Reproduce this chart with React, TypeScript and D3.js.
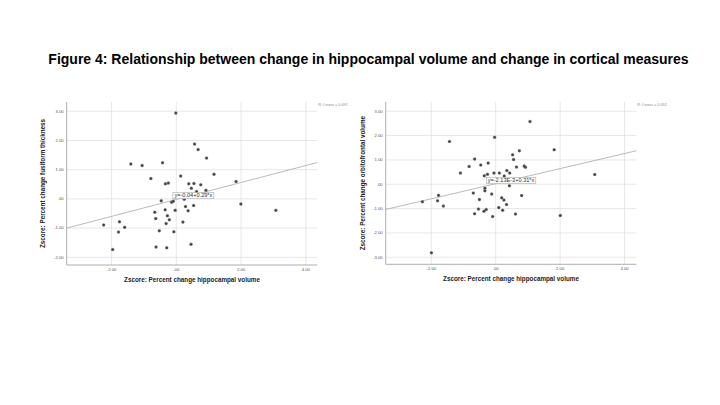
import React, { useEffect, useRef } from 'react';
import * as d3 from 'd3';

// Figure 4 – two SPSS style scatter plots with linear fit

const title = 'Figure 4: Relationship between change in hippocampal volume and change in cortical measures';

const xTicks = [-2, 0, 2, 4];
const leftYTicks = [-2, -1, 0, 1, 2, 3];
const rightYTicks = [-3, -2, -1, 0, 1, 2, 3];

const xLabel = 'Zscore:  Percent change hippocampal volume';

// left panel: fusiform thickness
const fusiformX = [
  0.0, -1.39, -1.04, -0.41, -0.77, -0.32, -0.23, 0.15, 0.58, 0.69, 0.95, 1.18,
  1.86, 0.4, 0.56, 0.77, 0.48, 0.64, 0.93, 2.01, 3.09, -0.45, -0.13, -0.08,
  0.26, 0.55, 0.3, 0.38, -0.02, -0.33, -0.65, -0.26, -0.62, -0.2, -0.3, 0.22,
  -2.23, -1.74, -1.58, -1.77, -0.51, -0.06, -1.95, -0.61, -0.28, 0.47,
];
const fusiformY = [
  2.92, 1.18, 1.13, 1.22, 0.68, 0.5, 0.53, 0.77, 1.86, 1.67, 1.38, 0.83,
  0.58, 0.5, 0.51, 0.47, 0.35, 0.24, 0.28, -0.19, -0.41, -0.08, -0.13, -0.1,
  -0.03, -0.24, -0.28, -0.42, -0.41, -0.39, -0.47, -0.59, -0.69, -0.73, -0.86, -0.81,
  -0.91, -0.8, -0.99, -1.15, -1.11, -1.14, -1.75, -1.66, -1.69, -1.57,
];

// right panel: orbitofrontal volume
const orbitoX = [
  1.08, -1.42, -0.02, 1.83, 0.75, 0.54, 0.57, -0.64, -0.81, -0.45, -0.22, 0.66,
  0.9, 0.94, -1.08, -0.34, -0.24, -0.04, 0.13, 0.36, 0.45, 0.28, 0.44, 3.09,
  -0.32, -0.32, -0.68, -0.11, 0.82, -2.26, -1.76, -1.79, -1.61, -0.49, 0.2, 0.27,
  0.35, -0.64, -0.52, -0.35, -0.28, -0.08, 0.11, 0.23, 0.63, 2.02, -1.98,
];
const orbitoY = [
  2.56, 1.74, 1.91, 1.4, 1.36, 1.19, 1.0, 1.02, 0.71, 0.77, 0.85, 0.69,
  0.73, 0.68, 0.44, 0.33, 0.39, 0.44, 0.44, 0.54, 0.44, 0.32, -0.08, 0.38,
  -0.18, -0.29, -0.38, -0.42, -0.48, -0.74, -0.47, -0.7, -0.91, -0.65, -0.58, -0.67,
  -0.85, -1.23, -1.04, -1.13, -1.06, -1.35, -0.98, -1.09, -1.24, -1.3, -2.84,
];

const panels = [
  {
    xs: fusiformX,
    ys: fusiformY,
    yTicks: leftYTicks,
    yLabel: 'Zscore:  Percent change fusiform thickness',
    xDomain: [-3.37, 4.37],
    yDomain: [-2.28, 3.3],
    intercept: -0.04,
    slope: 0.29,
    fitLabel: 'y=-0.04+0.29*x',
    labelAt: [-0.09, 0.2],
    r2: 'R\u00b2 Linear = 0.091',
    box: { x0: 66.7, x1: 317.3, y0: 102, y1: 265, yLabelX: 45 },
  },
  {
    xs: orbitoX,
    ys: orbitoY,
    yTicks: rightYTicks,
    yLabel: 'Zscore:  Percent change orbitofrontal volume',
    xDomain: [-3.4, 4.38],
    yDomain: [-3.31, 3.36],
    intercept: -2.13e-3,
    slope: 0.31,
    fitLabel: 'y=-2.13E-3+0.31*x',
    labelAt: [-0.28, 0.26],
    r2: 'R\u00b2 Linear = 0.092',
    box: { x0: 385.7, x1: 636.3, y0: 102, y1: 264.3, yLabelX: 365 },
  },
];

const fmt = (d: number) => (d === 0 ? '.00' : d.toFixed(2));

const App = () => {
  const svgRef = useRef<SVGSVGElement>(null);

  useEffect(() => {
    if (!svgRef.current) return;
    const svg = d3.select(svgRef.current);
    svg.selectAll('*').remove();

    svg.append('rect').attr('width', 720).attr('height', 405).attr('fill', '#fff');

    svg.append('text')
      .attr('x', 368.5)
      .attr('y', 64)
      .attr('text-anchor', 'middle')
      .attr('font-family', 'Liberation Sans, Arial, sans-serif')
      .attr('font-weight', 'bold')
      .attr('font-size', 14)
      .attr('fill', '#000')
      .text(title);

    panels.forEach((p) => {
      const { x0, x1, y0, y1 } = p.box;
      const x = d3.scaleLinear().domain(p.xDomain).range([x0, x1]);
      const y = d3.scaleLinear().domain(p.yDomain).range([y1, y0]);
      const g = svg.append('g').attr('font-family', 'Liberation Sans, Arial, sans-serif');

      // grid + tick labels
      const yAxis = g.append('g')
        .attr('transform', `translate(${x0},0)`)
        .call(d3.axisLeft(y).tickValues(p.yTicks).tickFormat(fmt as any).tickSize(-(x1 - x0)).tickPadding(3));
      yAxis.select('.domain').remove();
      yAxis.selectAll('line').attr('stroke', '#dcdcdc').attr('stroke-width', 0.7);
      yAxis.selectAll('text').attr('font-size', 4.2).attr('fill', '#555').attr('font-family', null);

      const xAxis = g.append('g')
        .attr('transform', `translate(0,${y1})`)
        .call(d3.axisBottom(x).tickValues(xTicks).tickFormat(fmt as any).tickSize(-(y1 - y0)).tickPadding(3));
      xAxis.select('.domain').remove();
      xAxis.selectAll('line').attr('stroke', '#dcdcdc').attr('stroke-width', 0.7);
      xAxis.selectAll('text').attr('font-size', 4.2).attr('fill', '#555').attr('font-family', null);

      // axis lines
      g.append('line').attr('x1', x0).attr('x2', x0).attr('y1', y0).attr('y2', y1)
        .attr('stroke', '#9a9a9a').attr('stroke-width', 0.8);
      g.append('line').attr('x1', x0).attr('x2', x1).attr('y1', y1).attr('y2', y1)
        .attr('stroke', '#9a9a9a').attr('stroke-width', 0.8);

      // fit line
      const [dx0, dx1] = p.xDomain;
      g.append('line')
        .attr('x1', x(dx0)).attr('y1', y(p.intercept + p.slope * dx0))
        .attr('x2', x(dx1)).attr('y2', y(p.intercept + p.slope * dx1))
        .attr('stroke', '#a8a8a8').attr('stroke-width', 0.8);

      // points
      g.append('g')
        .selectAll('circle')
        .data(p.xs.map((v, i) => [v, p.ys[i]]))
        .join('circle')
        .attr('cx', (d) => x(d[0]))
        .attr('cy', (d) => y(d[1]))
        .attr('r', 1.5)
        .attr('fill', '#444')
        .attr('stroke', '#888')
        .attr('stroke-width', 0.3);

      // fit equation label
      const lx = x(p.labelAt[0]);
      const ly = y(p.labelAt[1]);
      const lbl = g.append('text')
        .attr('x', lx + 1.5)
        .attr('y', ly + 4.9)
        .attr('font-size', 5.6)
        .attr('fill', '#333')
        .text(p.fitLabel);
      const w = (lbl.node() as SVGTextElement).getComputedTextLength();
      g.insert('rect', () => lbl.node() as any)
        .attr('x', lx).attr('y', ly)
        .attr('width', w + 3).attr('height', 6.2)
        .attr('fill', '#fff').attr('stroke', '#9a9a9a').attr('stroke-width', 0.5);

      // R2
      g.append('text')
        .attr('x', x1 + 1)
        .attr('y', y0 + 3.5)
        .attr('font-size', 3.8)
        .attr('fill', '#8a8a8a')
        .text(p.r2);

      // axis titles
      g.append('text')
        .attr('x', (x0 + x1) / 2)
        .attr('y', y1 + 17)
        .attr('text-anchor', 'middle')
        .attr('font-weight', 'bold')
        .attr('font-size', 6.3)
        .attr('fill', '#222')
        .text(xLabel);
      g.append('text')
        .attr('transform', `translate(${p.box.yLabelX},${(y0 + y1) / 2}) rotate(-90)`)
        .attr('text-anchor', 'middle')
        .attr('font-weight', 'bold')
        .attr('font-size', 6.3)
        .attr('fill', '#222')
        .text(p.yLabel);
    });
  }, []);

  return (
    <div style={{ position: 'fixed', left: 0, top: 0, width: 720, height: 405 }}>
      <svg ref={svgRef} width={720} height={405} style={{ display: 'block' }} />
    </div>
  );
};

export default App;
